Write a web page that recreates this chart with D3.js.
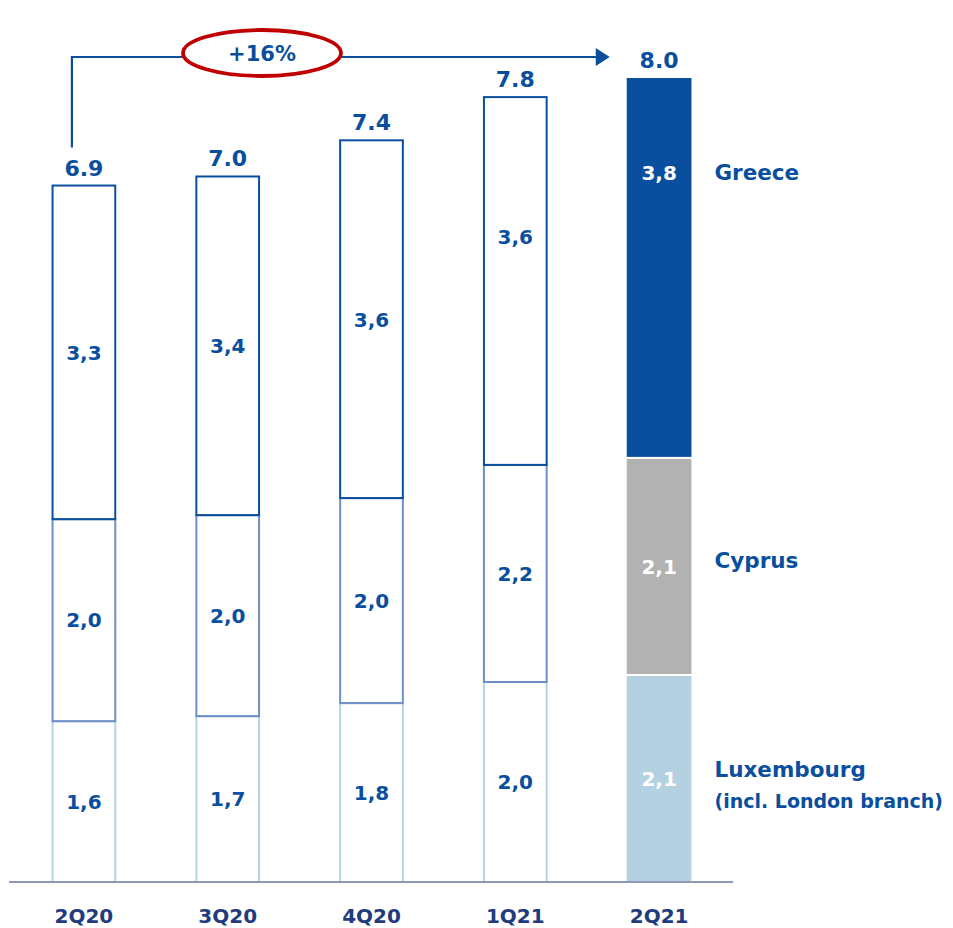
<!DOCTYPE html>
<html><head><meta charset="utf-8">
<script src="https://cdn.jsdelivr.net/npm/d3@7"></script>
<style>body{margin:0;background:#fff;} svg{display:block;font-family:"DejaVu Sans",sans-serif;font-weight:bold;}</style>
</head><body>
<svg id="chart" width="953" height="928"></svg>
<script>
const categories = ["2Q20","3Q20","4Q20","1Q21","2Q21"];
const luxembourg = [1.60, 1.65, 1.78, 1.99, 2.06];
const cyprus     = [2.01, 2.00, 2.04, 2.16, 2.16];
const greece     = [3.32, 3.37, 3.56, 3.66, 3.78];
const luxLabels  = ["1,6","1,7","1,8","2,0","2,1"];
const cypLabels  = ["2,0","2,0","2,0","2,2","2,1"];
const greLabels  = ["3,3","3,4","3,6","3,6","3,8"];
const totalLabels = ["6.9","7.0","7.4","7.8","8.0"];
const growthLabel = "+16%";
const seriesNames = ["Greece","Cyprus","Luxembourg"];
const seriesNote = "(incl. London branch)";

// style: relative vertical position of the Greece value label within its segment
const greLabelPos = [0.5, 0.5, 0.5, 0.38, 0.25];

const svg = d3.select("#chart");
const x = d3.scaleBand().domain(categories).range([12, 731]).paddingInner(0.55).paddingOuter(0.275);
const y = d3.scaleLinear().domain([0, 8]).range([882, 78]);

const blue = "#0a4f9e";
const navy = "#1f3c7c";
const last = categories.length-1;
const rows = categories.map((c,i)=>({c,i,lux:luxembourg[i],cy:cyprus[i],gr:greece[i]}));

const g = svg.append("g");
rows.forEach(r=>{
  const x0 = x(r.c), w = x.bandwidth();
  const segs = [
    {v0:0, v1:r.lux, stroke:"#b5d3e3", fill:"#b4d1e2", lab:luxLabels[r.i], pos:0.5},
    {v0:r.lux, v1:r.lux+r.cy, stroke:"#6f8fcb", fill:"#b2b2b2", lab:cypLabels[r.i], pos:0.5},
    {v0:r.lux+r.cy, v1:r.lux+r.cy+r.gr, stroke:blue, fill:blue, lab:greLabels[r.i], pos:greLabelPos[r.i]}
  ];
  segs.forEach((s,k)=>{
    const yt = y(s.v1), yb = y(s.v0);
    if (r.i===last) {
      const top = yt + (k<2 ? 1 : 0);
      const bot = yb - (k>0 ? 1 : 0);
      g.append("rect").attr("x",x0).attr("y",top).attr("width",w)
        .attr("height",bot-top).attr("fill",s.fill);
    } else {
      g.append("rect").attr("x",x0+1).attr("y",yt).attr("width",w-2).attr("height",yb-yt)
        .attr("fill","none").attr("stroke",s.stroke).attr("stroke-width",2);
    }
    const fs = 20;
    g.append("text").attr("x",x0+w/2).attr("y",yt+(yb-yt)*s.pos + fs*0.365)
      .attr("text-anchor","middle").attr("font-size",fs)
      .attr("fill", r.i===last ? "#ffffff" : blue)
      .text(s.lab);
  });
  g.append("text").attr("x",x0+w/2).attr("y",y(r.lux+r.cy+r.gr)-10)
    .attr("text-anchor","middle").attr("font-size",22)
    .attr("fill",blue).text(totalLabels[r.i]);
});

// axis baseline
svg.append("line").attr("x1",9).attr("x2",733).attr("y1",882).attr("y2",882)
  .attr("stroke","#8f98b8").attr("stroke-width",2);

// category labels
const xAxis = d3.axisBottom(x).tickSize(0).tickPadding(0);
const ax = svg.append("g").attr("transform","translate(0,882)").call(xAxis);
ax.select(".domain").remove();
ax.selectAll("text").attr("y",41).attr("dy",0).attr("font-size",20).attr("font-weight","bold")
  .attr("font-family","'DejaVu Sans',sans-serif").attr("fill",navy);

// growth arrow
const xs = x(categories[0]) + x.bandwidth()/2 - 12;
const yTop = 57;
const xe = x(categories[last]) - 18;
svg.append("path").attr("d",`M${xs},${y(luxembourg[0]+cyprus[0]+greece[0])-38} V${yTop} H${xe-8}`)
  .attr("fill","none").attr("stroke",blue).attr("stroke-width",2.2);
svg.append("path").attr("d",`M${xe-13},${yTop-9} L${xe+1},${yTop} L${xe-13},${yTop+9} Z`).attr("fill",blue);
svg.append("ellipse").attr("cx",262).attr("cy",53).attr("rx",79).attr("ry",23)
  .attr("fill","#fff").attr("stroke","#c00000").attr("stroke-width",3.8);
svg.append("text").attr("x",262).attr("y",61).attr("text-anchor","middle")
  .attr("font-size",21).attr("fill",blue).text(growthLabel);

// series labels
const lx = x(categories[last]) + x.bandwidth() + 23;
const legBase = [179.5, 568, 777];
seriesNames.forEach((n,i)=>{
  svg.append("text").attr("x",lx).attr("y",legBase[i])
    .attr("font-size",21.5).attr("fill",blue).text(n);
});
svg.append("text").attr("x",lx).attr("y",legBase[2]+31)
  .attr("font-size",19).attr("fill",blue).text(seriesNote);
</script>
</body></html>
